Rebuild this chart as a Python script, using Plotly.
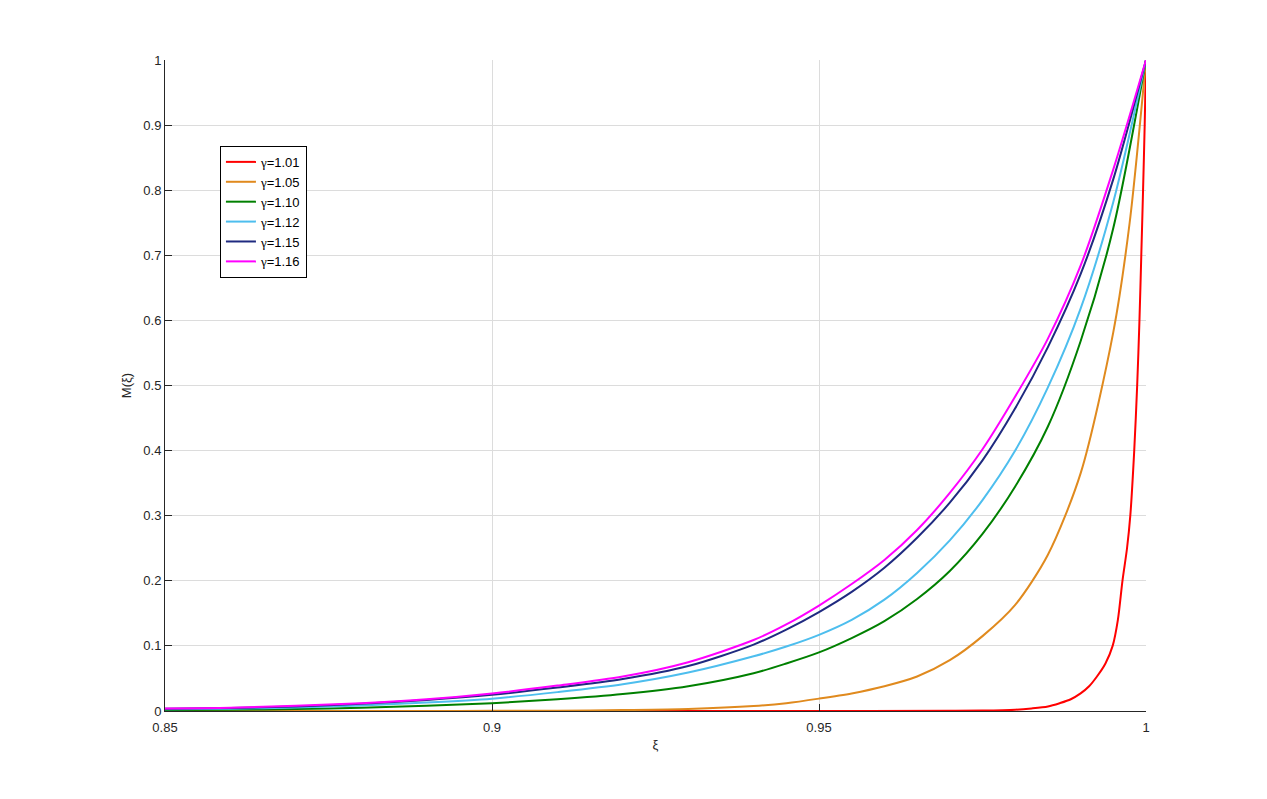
import plotly.graph_objects as go

gamma_vals = ["1.01", "1.05", "1.10", "1.12", "1.15", "1.16"]
colors = ["#ff0000", "#e08a1e", "#008000", "#4dbeee", "#1f2a80", "#ff00ff"]

# (xi, M) points, one pair of arrays per curve
xi_101 = [0.85, 0.90, 0.95, 0.97, 0.975, 0.98, 0.9825, 0.985, 0.9868, 0.9885, 0.990, 0.9913, 0.9925,
          0.9938, 0.9949, 0.9957, 0.9964, 0.9971, 0.9976, 0.9982, 0.99865, 0.9990, 0.99928, 0.99955, 0.9998, 1.0]
m_101 = [0.0, 0.0, 0.0, 0.0002, 0.0006, 0.002, 0.004, 0.007, 0.012, 0.018, 0.027, 0.038, 0.053,
         0.073, 0.1, 0.14, 0.2, 0.25, 0.3, 0.4, 0.5, 0.6, 0.7, 0.8, 0.9, 1.0]

xi_105 = [0.85, 0.86, 0.87, 0.88, 0.89, 0.90, 0.91, 0.92, 0.93, 0.94, 0.945, 0.95, 0.955, 0.96, 0.965,
          0.97, 0.975, 0.98, 0.985, 0.99, 0.995, 0.9975, 1.0]
m_105 = [0.0, 0.0, 0.0001, 0.0001, 0.0001, 0.0002, 0.0005, 0.0014, 0.003, 0.0075, 0.012, 0.019, 0.027,
         0.038, 0.053, 0.078, 0.115, 0.163, 0.240, 0.365, 0.582, 0.750, 1.0]

xi_110 = [0.85, 0.86, 0.87, 0.88, 0.89, 0.90, 0.91, 0.92, 0.93, 0.94, 0.945, 0.95, 0.955, 0.96, 0.965,
          0.97, 0.975, 0.98, 0.985, 0.99, 0.995, 1.0]
m_110 = [0.0015, 0.002, 0.003, 0.005, 0.008, 0.012, 0.018, 0.026, 0.038, 0.058, 0.073, 0.090, 0.112,
         0.138, 0.172, 0.215, 0.272, 0.345, 0.437, 0.568, 0.742, 1.0]

xi_112 = [0.85, 0.86, 0.87, 0.88, 0.89, 0.90, 0.91, 0.92, 0.93, 0.94, 0.945, 0.95, 0.955, 0.96, 0.965,
          0.97, 0.975, 0.98, 0.985, 0.99, 0.995, 1.0]
m_112 = [0.0025, 0.0035, 0.0055, 0.0085, 0.013, 0.019, 0.029, 0.041, 0.059, 0.084, 0.099, 0.117, 0.140,
         0.171, 0.212, 0.262, 0.324, 0.400, 0.497, 0.618, 0.782, 1.0]

xi_115 = [0.85, 0.86, 0.87, 0.88, 0.89, 0.90, 0.91, 0.92, 0.93, 0.94, 0.945, 0.95, 0.955, 0.96, 0.965,
          0.97, 0.975, 0.98, 0.985, 0.99, 0.995, 1.0]
m_115 = [0.0035, 0.0045, 0.007, 0.011, 0.017, 0.025, 0.036, 0.049, 0.069, 0.102, 0.125, 0.152, 0.183,
         0.220, 0.266, 0.320, 0.385, 0.465, 0.559, 0.671, 0.817, 1.0]

xi_116 = [0.85, 0.86, 0.87, 0.88, 0.89, 0.90, 0.91, 0.92, 0.93, 0.94, 0.945, 0.95, 0.955, 0.96, 0.965,
          0.97, 0.975, 0.98, 0.985, 0.99, 0.995, 1.0]
m_116 = [0.004, 0.005, 0.008, 0.012, 0.018, 0.027, 0.039, 0.053, 0.075, 0.109, 0.133, 0.162, 0.195,
         0.232, 0.278, 0.335, 0.402, 0.483, 0.572, 0.684, 0.832, 1.0]

series_x = [xi_101, xi_105, xi_110, xi_112, xi_115, xi_116]
series_y = [m_101, m_105, m_110, m_112, m_115, m_116]

x_ticks = [0.85, 0.9, 0.95, 1.0]
x_ticktext = ["0.85", "0.9", "0.95", "1"]
y_ticks = [0, 0.1, 0.2, 0.3, 0.4, 0.5, 0.6, 0.7, 0.8, 0.9, 1.0]
y_ticktext = ["0", "0.1", "0.2", "0.3", "0.4", "0.5", "0.6", "0.7", "0.8", "0.9", "1"]

fig = go.Figure()
for xs, ys, g, col in zip(series_x, series_y, gamma_vals, colors):
    fig.add_trace(go.Scatter(
        x=xs, y=ys, mode="lines",
        name='<span style="font-family:Liberation Serif">γ</span>=' + g,
        line=dict(color=col, width=2, shape="spline", smoothing=0.8),
    ))

axis_font = dict(family="Liberation Sans, Arial, sans-serif", size=13, color="#262626")

fig.update_layout(
    width=1251, height=783,
    margin=dict(l=157, r=113, t=52, b=80),
    paper_bgcolor="white", plot_bgcolor="white",
    font=axis_font,
    showlegend=True,
    legend=dict(
        x=0.056, y=0.868, xanchor="left", yanchor="top",
        bgcolor="white", bordercolor="#000000", borderwidth=1,
        font=dict(family="Liberation Sans, Arial, sans-serif", size=13, color="#000000"),
        tracegroupgap=0, itemwidth=30,
    ),
    xaxis=dict(
        range=[0.85, 1.0], tickvals=x_ticks, ticktext=x_ticktext,
        showgrid=True, gridcolor="#dcdcdc", gridwidth=1,
        showline=True, linecolor="#262626", linewidth=1,
        ticks="inside", ticklen=7, tickcolor="#262626",
        ticklabelstandoff=4,
        zeroline=False, mirror=False,
        title=dict(text="ξ", font=dict(size=13, color="#262626"), standoff=6),
        tickfont=axis_font,
    ),
    yaxis=dict(
        range=[0, 1.0], tickvals=y_ticks, ticktext=y_ticktext,
        showgrid=True, gridcolor="#dcdcdc", gridwidth=1,
        showline=True, linecolor="#262626", linewidth=1,
        ticks="inside", ticklen=7, tickcolor="#262626",
        zeroline=False, mirror=False,
        title=dict(text="M(ξ)", font=dict(size=13, color="#262626"), standoff=8),
        tickfont=axis_font,
    ),
)

fig.write_html("out.html")
